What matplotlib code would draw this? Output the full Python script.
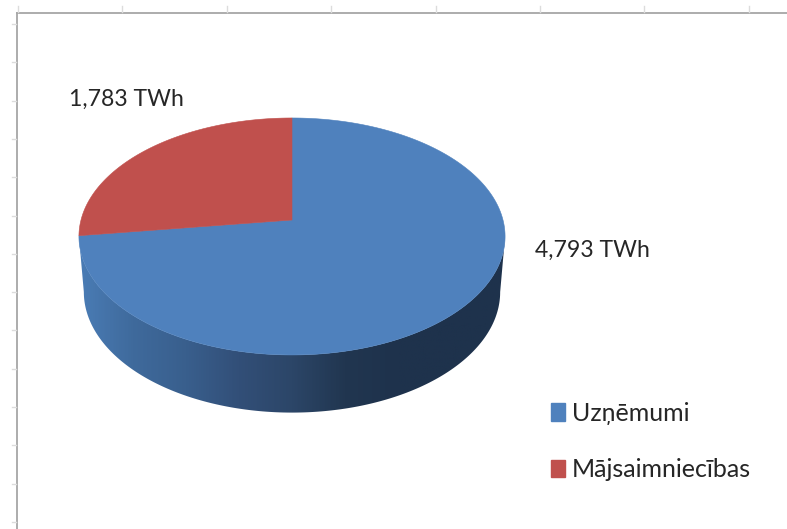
import numpy as np
import matplotlib
matplotlib.use("Agg")
import matplotlib.pyplot as plt
from matplotlib.patches import Polygon, Patch
from matplotlib.colors import LinearSegmentedColormap

# dati
categories = ["Uzņēmumi", "Mājsaimniecības"]
values = [4793, 1783]
value_labels = ["4,793 TWh", "1,783 TWh"]
colors = ["#4f81bd", "#c0504d"]

W, H = 787, 529
plt.rcParams["font.family"] = ["Lato", "DejaVu Sans"]

fig = plt.figure(figsize=(W / 100, H / 100), dpi=100)
ax = fig.add_axes([0, 0, 1, 1])
ax.set_xlim(0, W)
ax.set_ylim(H, 0)
ax.axis("off")

# excel ramis ar ieskalam
frame = "#a6a6a6"
ax.plot([16.5, W], [12.5, 12.5], color=frame, lw=1.3)
ax.plot([16.5, 16.5], [12.5, H], color=frame, lw=1.3)
for x in np.arange(18, W, 104.4):
    ax.plot([x, x], [6, 12], color="#dcdcdc", lw=1.0)
for y in np.arange(24, H, 38.3):
    ax.plot([12, 16], [y, y], color="#dcdcdc", lw=1.0)

# perspektiva diskam
cx, vy = 292, 220
k, a, b = 0.139, 116.2, 211


def project(theta, r=1.0):
    # theta = lenkis no 12 pulksten, pulksteņa virzienā
    u = r * np.sin(theta)
    v = r * np.cos(theta)
    d = 1 + k * v
    return cx + b * u / d, vy - a * v / d


# sanu mala (apaksejais disks nedaudz mazaks)
def bottom(theta):
    x, y = project(theta)
    return cx + (x - cx) * 0.977, 292 + (y - 236.5) * 1.018


arc = np.radians(np.linspace(98, 262, 200))
top_x, top_y = project(arc)
bot_x, bot_y = bottom(arc)
side_pts = np.column_stack([np.r_[top_x, bot_x[::-1]], np.r_[top_y, bot_y[::-1]]])
side_cmap = LinearSegmentedColormap.from_list(
    "side", ["#4a7cb5", "#3f6a9c", "#395f8d", "#324f78", "#2c4668", "#213650", "#1e324c", "#1e324c", "#1e324c"]
)
grad = np.linspace(0, 1, 400).reshape(1, -1)
im = ax.imshow(grad, cmap=side_cmap, extent=[79, 505, 420, 230], aspect="auto", zorder=2)
im.set_clip_path(Polygon(side_pts, transform=ax.transData))
ax.set_xlim(0, W)
ax.set_ylim(H, 0)

# virsma
start = 0.0
total = sum(values)
for val, col in zip(values, colors):
    sweep = 2 * np.pi * val / total
    th = np.linspace(start, start + sweep, 300)
    x, y = project(th)
    cx0, cy0 = project(0.0, 0.0)
    pts = np.column_stack([np.r_[cx0, x], np.r_[cy0, y]])
    ax.add_patch(Polygon(pts, closed=True, fc=col, ec=col, lw=0.4, zorder=3))
    start += sweep

ax.text(535, 250, value_labels[0], fontsize=16.6, color="#262626", va="center", ha="left")
ax.text(69, 99, value_labels[1], fontsize=16.6, color="#262626", va="center", ha="left")

handles = [Patch(fc=c, ec=c) for c in colors]
leg = ax.legend(
    handles, categories, loc="upper left", bbox_to_anchor=(551 / W, 1 - 402 / H),
    frameon=False, fontsize=18, labelspacing=1.33, handlelength=0.56, handleheight=0.72,
    handletextpad=0.28, borderpad=0, borderaxespad=0, labelcolor="#262626",
)

fig.savefig("out.png", dpi=100)
